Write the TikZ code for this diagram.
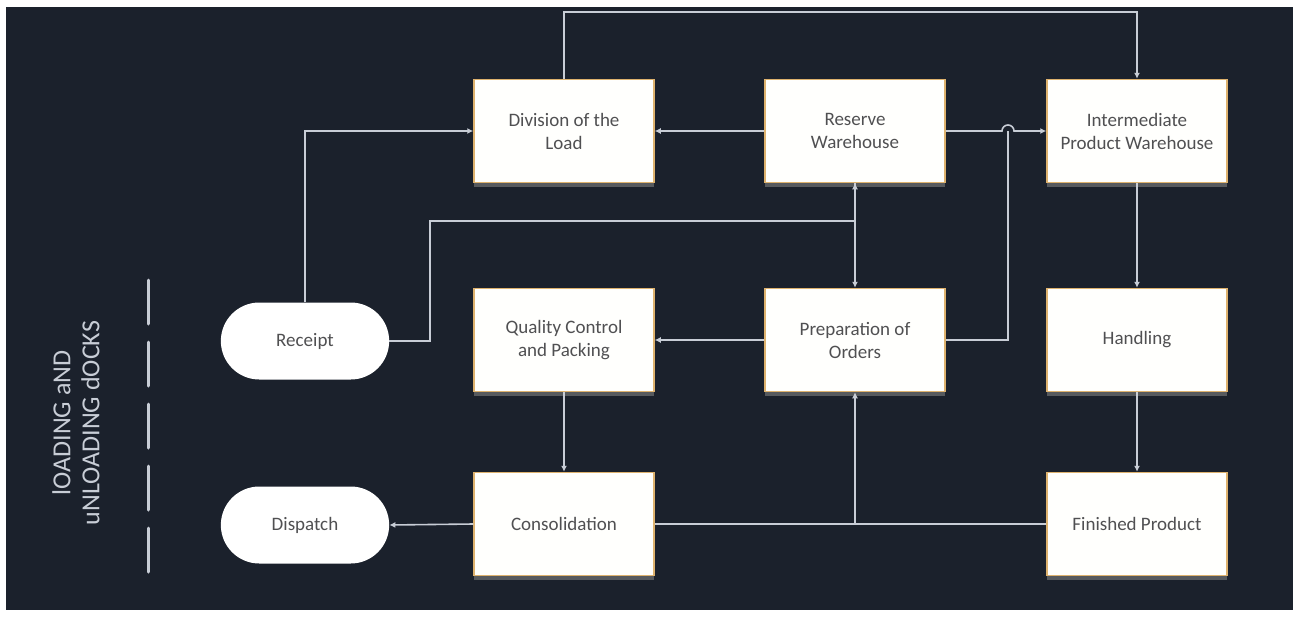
\documentclass[tikz,border=0pt]{standalone}
\usepackage{fontspec}
\setmainfont{Carlito}
\usetikzlibrary{arrows.meta,shapes.misc,shadows,calc}
\definecolor{bgdark}{RGB}{27,33,44}
\definecolor{wire}{RGB}{200,205,214}
\definecolor{boxfill}{RGB}{255,255,253}
\definecolor{boxedge}{RGB}{222,178,110}
\definecolor{ink}{RGB}{80,80,82}
\tikzset{
  procbox/.style={rectangle, minimum width=180pt, minimum height=103pt,
    fill=boxfill, draw=boxedge, line width=1.5pt, text=ink,
    align=center, font=\fontsize{19}{23}\selectfont,
    drop shadow={opacity=0.6, shadow xshift=0pt, shadow yshift=-4pt}},
  dockbox/.style={rounded rectangle, minimum width=175pt, minimum height=77pt,
    fill=white, draw=none, text=ink, font=\fontsize{19}{23}\selectfont},
  wireline/.style={draw=wire, line width=1.6pt},
  flow/.style={wireline, -{Latex[length=6pt,width=6pt]}},
}
\begin{document}
\begin{tikzpicture}[x=1pt,y=-1pt]
\useasboundingbox (0,0) rectangle (1293,616);
\fill[white] (0,0) rectangle (1293,616);
\fill[bgdark] (6,7) rectangle (1293,610);

% process boxes
\node[procbox] (div) at (564,131) {Division of the\\Load};
\node[procbox] (res) at (855,131) {Reserve\\Warehouse};
\node[procbox] (ipw) at (1137,131) {Intermediate\\Product Warehouse};
\node[procbox] (qc)  at (564,340) {Quality Control\\and Packing};
\node[procbox] (prep) at (855,340) {Preparation of\\Orders};
\node[procbox] (han) at (1137,340) {Handling};
\node[procbox] (con) at (564,524) {Consolidation};
\node[procbox] (fin) at (1137,524) {Finished Product};

% dock terminals
\node[dockbox] (rec) at (305,341) {Receipt};
\node[dockbox] (dis) at (305,525) {Dispatch};

% dock side label and boundary
\node[rotate=90, align=center, text=wire, font=\fontsize{26}{29}\selectfont] (docks) at (76,423)
  {lOADING aND\\uNLOADING dOCKS};
\coordinate (dtop) at (148,280);
\coordinate (dbot) at (148,575);
\draw[wireline, line width=3pt, line cap=round, dash pattern=on 44pt off 18pt] (dtop) -- (dbot);

% routing points
\coordinate (topy) at (0,12);
\coordinate (j1) at (430,221);
\coordinate (hop) at (1008,131);

% connectors
\draw[flow] (rec.north) |- (div.west);
\draw[flow] (div.north) -- (div.north |- topy) -| (ipw.north);
\draw[flow] (res.west) -- (div.east);
\draw[flow] (res.east) -- ($(hop)+(-6,0)$) arc (180:360:6) -- (ipw.west);
\draw[flow] (rec.east) -| (j1) -| (res.south);
\draw[flow] (res.south) -- (prep.north);
\draw[flow] (prep.west) -- (qc.east);
\draw[wireline] (prep.east) -| (hop);
\draw[flow] (qc.south) -- (con.north);
\draw[flow] (ipw.south) -- (han.north);
\draw[flow] (han.south) -- (fin.north);
\draw[wireline] (fin.west) -- (con.east);
\draw[flow] (prep.south |- fin.west) -- (prep.south);
\draw[flow] (con.west) -- (dis.east);
\end{tikzpicture}
\end{document}
